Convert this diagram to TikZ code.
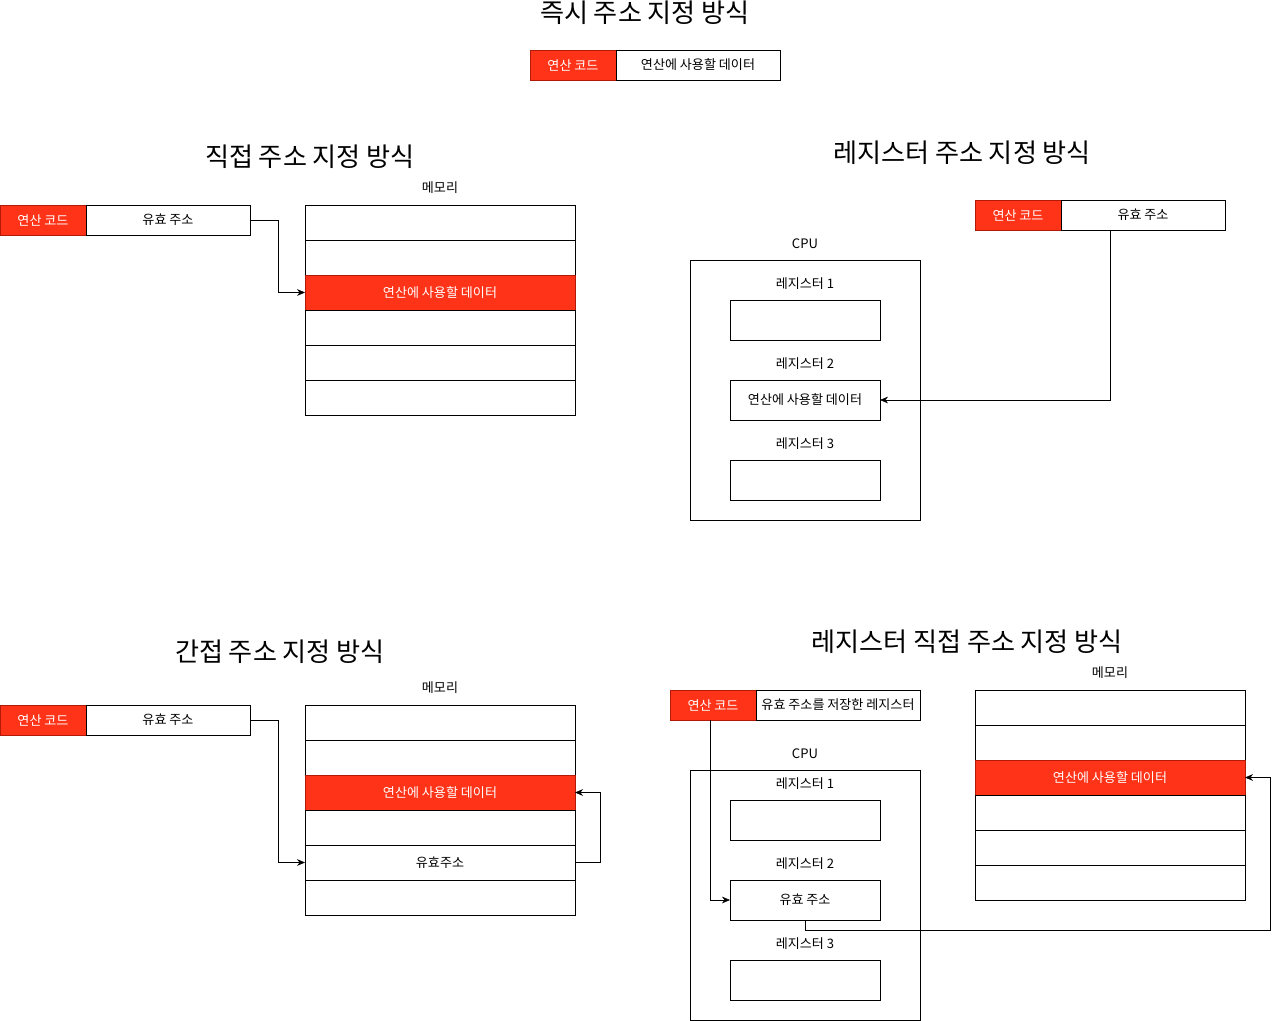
\documentclass[tikz,border=0pt]{standalone}
\usepackage{fontspec}
\setmainfont{Noto Sans CJK KR}
\usetikzlibrary{arrows.meta, positioning}
\definecolor{opred}{HTML}{FF3318}
\definecolor{opline}{HTML}{B21A08}

\begin{document}
\begin{tikzpicture}[
  x=0.75pt, y=-0.75pt,
  field/.style={draw, line width=0.75pt, minimum height=22.5pt, inner sep=0pt,
    outer sep=0pt, font=\fontsize{9.8}{12}\selectfont},
  opcode/.style={field, fill=opred, draw=opline, text=white, minimum width=64.5pt},
  addr/.style={field, minimum width=123pt},
  cell/.style={field, minimum width=202.5pt, minimum height=26.25pt},
  hot/.style={cell, fill=opred, draw=opline, text=white},
  reg/.style={field, minimum width=112.5pt, minimum height=30pt},
  cpu/.style={draw, line width=0.75pt, minimum width=172.5pt, inner sep=0pt, outer sep=0pt},
  heading/.style={font=\fontsize{19.6}{22}\selectfont},
  caption/.style={font=\fontsize{9.8}{12}\selectfont},
  >={Stealth[length=6pt, width=5pt]}
]
  \useasboundingbox (0,0) rectangle (1279,1021);

  % Immediate addressing
  \node[heading] (imtitle) at (645,13) {즉시 주소 지정 방식};
  \node[opcode] (imop) at (573,65) {연산 코드};
  \node[addr, minimum width=123pt, right=0pt of imop] (imdata) {연산에 사용할 데이터};

  % Direct addressing
  \node[heading] (dtitle) at (310,157) {직접 주소 지정 방식};
  \node[opcode] (dop) at (43,220) {연산 코드};
  \node[addr, right=0pt of dop] (dadr) {유효 주소};
  \node[caption] (dmlabel) at (440,188) {메모리};
  \node[cell] (dm1) at (440,222.5) {};
  \node[cell, below=0pt of dm1] (dm2) {};
  \node[hot, below=0pt of dm2] (dm3) {연산에 사용할 데이터};
  \node[cell, below=0pt of dm3] (dm4) {};
  \node[cell, below=0pt of dm4] (dm5) {};
  \node[cell, below=0pt of dm5] (dm6) {};
  \draw[->] (dadr.east) -- ++(28,0) |- (dm3.west);

  % Register addressing
  \node[heading] (rtitle) at (962,153) {레지스터 주소 지정 방식};
  \node[opcode] (rop) at (1018,215) {연산 코드};
  \node[addr, right=0pt of rop] (radr) {유효 주소};
  \node[caption] (rcpulabel) at (805,244) {CPU};
  \node[cpu, minimum height=195pt] (rcpu) at (805,390) {};
  \node[caption] (r1label) at (805,284) {레지스터 1};
  \node[reg] (r1) at (805,320) {};
  \node[caption] (r2label) at (805,364) {레지스터 2};
  \node[reg] (r2) at (805,400) {연산에 사용할 데이터};
  \node[caption] (r3label) at (805,444) {레지스터 3};
  \node[reg] (r3) at (805,480) {};
  \draw[->] ([xshift=-24.75pt]radr.south) |- (r2.east);

  % Indirect addressing
  \node[heading] (ititle) at (280,652) {간접 주소 지정 방식};
  \node[opcode] (iop) at (43,720) {연산 코드};
  \node[addr, right=0pt of iop] (iadr) {유효 주소};
  \node[caption] (imlabel) at (440,688) {메모리};
  \node[cell] (im1) at (440,722.5) {};
  \node[cell, below=0pt of im1] (im2) {};
  \node[hot, below=0pt of im2] (im3) {연산에 사용할 데이터};
  \node[cell, below=0pt of im3] (im4) {};
  \node[cell, below=0pt of im4] (im5) {유효주소};
  \node[cell, below=0pt of im5] (im6) {};
  \draw[->] (iadr.east) -- ++(28,0) |- (im5.west);
  \draw[->] (im5.east) -- ++(25,0) |- (im3.east);

  % Register indirect addressing
  \node[heading] (rititle) at (967,642) {레지스터 직접 주소 지정 방식};
  \node[opcode] (riop) at (713,705) {연산 코드};
  \node[addr, right=0pt of riop] (riadr) {유효 주소를 저장한 레지스터};
  \node[caption] (ricpulabel) at (805,754) {CPU};
  \node[cpu, minimum height=187.5pt] (ricpu) at (805,895) {};
  \node[caption] (ri1label) at (805,784) {레지스터 1};
  \node[reg] (ri1) at (805,820) {};
  \node[caption] (ri2label) at (805,864) {레지스터 2};
  \node[reg] (ri2) at (805,900) {유효 주소};
  \node[caption] (ri3label) at (805,944) {레지스터 3};
  \node[reg] (ri3) at (805,980) {};
  \node[caption] (rimlabel) at (1110,673) {메모리};
  \node[cell] (rim1) at (1110,707.5) {};
  \node[cell, below=0pt of rim1] (rim2) {};
  \node[hot, below=0pt of rim2] (rim3) {연산에 사용할 데이터};
  \node[cell, below=0pt of rim3] (rim4) {};
  \node[cell, below=0pt of rim4] (rim5) {};
  \node[cell, below=0pt of rim5] (rim6) {};
  \draw[->] ([xshift=-2.25pt]riop.south) |- (ri2.west);
  \draw[->] (ri2.south) -- ++(0,10) -| ([xshift=18.75pt]rim3.east) -- (rim3.east);
\end{tikzpicture}
\end{document}
